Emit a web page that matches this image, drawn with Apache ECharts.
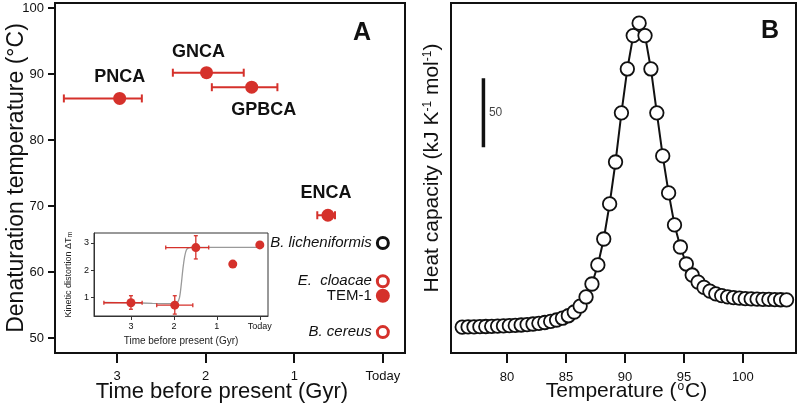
<!DOCTYPE html>
<html>
<head>
<meta charset="utf-8">
<script src="https://cdn.jsdelivr.net/npm/echarts@6/dist/echarts.min.js"></script>
<style>html,body{margin:0;padding:0;background:#fff}#c{width:800px;height:405px}</style>
</head>
<body>
<div id="c"></div>
<script>
// ---------- Panel A: ancestral enzymes ----------
const ancestorNames = ['PNCA', 'GNCA', 'GPBCA', 'ENCA'];
const ancestorTime = [2.97, 1.99, 1.48, 0.62];          // Gyr before present
const ancestorTimeLow = [2.72, 1.57, 1.19, 0.54];
const ancestorTimeHigh = [3.60, 2.37, 1.93, 0.74];
const ancestorTm = [86.3, 90.2, 88.0, 68.6];            // °C

const modernNames = ['B. licheniformis', 'E.  cloacae', 'TEM-1', 'B. cereus'];
const modernTime = [0, 0, 0, 0];
const modernTm = [64.4, 58.6, 56.4, 50.9];

const timeTicks = [3, 2, 1, 0];
const tmTicks = [50, 60, 70, 80, 90, 100];

// ---------- Inset: kinetic distortion ----------
const insetTime = [3.0, 1.98, 1.49, 0.63, 0.0];
const insetTimeLow = [2.74, 1.56, 1.19, 0.56, -0.03];
const insetTimeHigh = [3.63, 2.40, 2.19, 0.70, 0.03];
const insetDist = [0.79, 0.70, 2.83, 2.22, 2.93];
const insetDistLow = [0.55, 0.37, 2.41, 2.16, 2.84];
const insetDistHigh = [1.05, 1.05, 3.27, 2.28, 3.02];
const fitTime = [3.63, 3.0, 2.5, 2.0, 1.92, 1.87, 1.83, 1.79, 1.75, 1.71, 1.66, 1.6, 1.3, 0.8, 0.0];
const fitDist = [0.80, 0.79, 0.77, 0.76, 0.80, 0.98, 1.45, 2.05, 2.50, 2.74, 2.82, 2.84, 2.84, 2.84, 2.84];
const insetDistTicks = [1, 2, 3];

// ---------- Panel B: DSC thermogram ----------
const tempC = [76.2, 76.7, 77.2, 77.7, 78.2, 78.7, 79.2, 79.7, 80.2, 80.7,
  81.2, 81.7, 82.2, 82.7, 83.2, 83.7, 84.2, 84.7, 85.2, 85.7,
  86.2, 86.7, 87.2, 87.7, 88.2, 88.7, 89.2, 89.7, 90.2, 90.7,
  91.2, 91.7, 92.2, 92.7, 93.2, 93.7, 94.2, 94.7, 95.2, 95.7,
  96.2, 96.7, 97.2, 97.7, 98.2, 98.7, 99.2, 99.7, 100.2, 100.7,
  101.2, 101.7, 102.2, 102.7, 103.2, 103.7];
const heatCap = [18.8, 18.9, 19.0, 19.1, 19.2, 19.3, 19.5, 19.6, 19.8, 20.0,
  20.3, 20.6, 21.0, 21.5, 22.1, 22.9, 23.9, 25.2, 27.0, 29.7,
  34.0, 40.6, 50.0, 63.8, 82.6, 108.0, 138.4, 174.0, 205.8, 230.0,
  239.0, 230.0, 205.8, 174.0, 142.8, 116.0, 92.8, 76.8, 64.5, 56.5,
  51.4, 47.5, 44.8, 42.9, 41.6, 40.7, 40.1, 39.7, 39.4, 39.2,
  39.0, 38.9, 38.8, 38.7, 38.6, 38.5];
const tempTicks = [80, 85, 90, 95, 100];
const scaleBarTemp = [78.0, 78.0];
const scaleBarCap = [149, 199];
const scaleBarLabel = '50';

// ---------- styling ----------
const RED = '#d5312b';
const FONT = 'Liberation Sans, Arial, sans-serif';
const ancestorLabelLayout = [
  {position: 'top', distance: 6, offset: [0, 0]},
  {position: 'top', distance: 5, offset: [-8, 0]},
  {position: 'bottom', distance: 7, offset: [12, 0]},
  {position: 'top', distance: 7, offset: [-2, 0]}
];
const modernStyle = [
  {fill: '#fff', border: '#111', italic: true},
  {fill: '#fff', border: RED, italic: true},
  {fill: RED, border: RED, italic: false},
  {fill: '#fff', border: RED, italic: true}
];

function xErrRender(capHalf, lw) {
  return function (params, api) {
    const y = api.value(1);
    const lo = api.coord([api.value(2), y]);
    const hi = api.coord([api.value(3), y]);
    const st = {stroke: RED, lineWidth: lw};
    const kids = [
      {type: 'line', shape: {x1: lo[0], y1: lo[1], x2: hi[0], y2: hi[1]}, style: st},
      {type: 'line', shape: {x1: lo[0], y1: lo[1] - capHalf, x2: lo[0], y2: lo[1] + capHalf}, style: st},
      {type: 'line', shape: {x1: hi[0], y1: hi[1] - capHalf, x2: hi[0], y2: hi[1] + capHalf}, style: st}
    ];
    if (api.value(4) != null && !isNaN(api.value(4))) {
      const x = api.value(0);
      const b = api.coord([x, api.value(4)]);
      const t = api.coord([x, api.value(5)]);
      kids.push({type: 'line', shape: {x1: b[0], y1: b[1], x2: t[0], y2: t[1]}, style: st});
      kids.push({type: 'line', shape: {x1: b[0] - capHalf, y1: b[1], x2: b[0] + capHalf, y2: b[1]}, style: st});
      kids.push({type: 'line', shape: {x1: t[0] - capHalf, y1: t[1], x2: t[0] + capHalf, y2: t[1]}, style: st});
    }
    return {type: 'group', children: kids};
  };
}

const axisText = {fontFamily: FONT, color: '#111'};
const gridBase = {show: true, containLabel: false, outerBoundsMode: 'none', backgroundColor: 'transparent'};

const option = {
  animation: false,
  backgroundColor: '#fff',
  title: [
    {text: 'A', left: 348, top: 16, textStyle: {fontFamily: FONT, fontSize: 25, fontWeight: 'bold', color: '#111'}},
    {text: 'B', left: 756, top: 14, textStyle: {fontFamily: FONT, fontSize: 25, fontWeight: 'bold', color: '#111'}}
  ],
  grid: [
    Object.assign({left: 55, top: 3, width: 350, height: 350, borderColor: '#111', borderWidth: 2}, gridBase),
    Object.assign({}, gridBase, {left: 94, top: 233, width: 174, height: 83, borderColor: '#333', borderWidth: 1, backgroundColor: '#fff', z: 3}),
    Object.assign({left: 451, top: 3, width: 345, height: 350, borderColor: '#111', borderWidth: 2}, gridBase)
  ],
  xAxis: [
    {
      gridIndex: 0, type: 'value', inverse: true, min: -0.25, max: 3.7,
      name: 'Time before present (Gyr)', nameLocation: 'middle', nameGap: 28, nameMoveOverlap: false,
      nameTextStyle: {fontFamily: FONT, fontSize: 22, color: '#111', padding: [0, 16, 0, 0]},
      axisLine: {show: true, onZero: false, lineStyle: {color: '#111', width: 2}},
      axisTick: {show: true, length: 10, customValues: timeTicks, lineStyle: {color: '#111', width: 2}},
      axisLabel: Object.assign({customValues: timeTicks, margin: 17, fontSize: 13,
        formatter: v => v === 0 ? 'Today' : String(v)}, axisText),
      splitLine: {show: false}
    },
    {
      gridIndex: 1, type: 'value', inverse: true, min: -0.19, max: 3.86, z: 4,
      name: 'Time before present (Gyr)', nameLocation: 'middle', nameGap: 20, nameMoveOverlap: false,
      nameTextStyle: {fontFamily: FONT, fontSize: 10, color: '#222'},
      axisLine: {show: true, onZero: false, lineStyle: {color: '#333', width: 1}},
      axisTick: {show: true, length: 4, customValues: timeTicks, lineStyle: {color: '#333'}},
      axisLabel: Object.assign({customValues: timeTicks, margin: 6, fontSize: 9,
        formatter: v => v === 0 ? 'Today' : String(v)}, axisText),
      splitLine: {show: false}
    },
    {
      gridIndex: 2, type: 'value', min: 75.25, max: 104.5,
      name: '{a|Temperature (}{s|o}{a|C)}', nameLocation: 'middle', nameGap: 28, nameMoveOverlap: false,
      nameTextStyle: {padding: [0, 0, 0, 6], rich: {
        a: {fontFamily: FONT, fontSize: 21, color: '#111'},
        s: {fontFamily: FONT, fontSize: 12, color: '#111', verticalAlign: 'top', padding: [0, 1, 8, 1]}
      }},
      axisLine: {show: true, onZero: false, lineStyle: {color: '#111', width: 2}},
      axisTick: {show: true, length: 10, customValues: tempTicks, lineStyle: {color: '#111', width: 2}},
      axisLabel: Object.assign({customValues: tempTicks, margin: 18, fontSize: 13}, axisText),
      splitLine: {show: false}
    }
  ],
  yAxis: [
    {
      gridIndex: 0, type: 'value', min: 47.73, max: 100.76,
      name: 'Denaturation temperature (°C)', nameLocation: 'middle', nameGap: 27, nameMoveOverlap: false,
      nameTextStyle: {fontFamily: FONT, fontSize: 23, color: '#111'},
      axisLine: {show: true, onZero: false, lineStyle: {color: '#111', width: 2}},
      axisTick: {show: true, length: 7, customValues: tmTicks, lineStyle: {color: '#111', width: 2}},
      axisLabel: Object.assign({customValues: tmTicks, margin: 11, fontSize: 13}, axisText),
      splitLine: {show: false}
    },
    {
      gridIndex: 1, type: 'value', min: 0.3, max: 3.37, z: 4,
      name: '{a|Kinetic distortion ΔT}{s|m}', nameLocation: 'middle', nameGap: 20, nameMoveOverlap: false,
      nameTextStyle: {rich: {
        a: {fontFamily: FONT, fontSize: 9, color: '#222'},
        s: {fontFamily: FONT, fontSize: 7, color: '#222', verticalAlign: 'bottom', padding: [4, 0, 0, 0]}
      }},
      axisLine: {show: true, onZero: false, lineStyle: {color: '#333', width: 1}},
      axisTick: {show: true, length: 3, customValues: insetDistTicks, lineStyle: {color: '#333'}},
      axisLabel: Object.assign({customValues: insetDistTicks, margin: 5, fontSize: 9}, axisText),
      splitLine: {show: false}
    },
    {
      gridIndex: 2, type: 'value', min: 0, max: 253.6,
      name: '{a|Heat capacity (kJ K}{s|-1}{a| mol}{s|-1}{a|)}', nameLocation: 'middle', nameGap: 8, nameMoveOverlap: false,
      nameTextStyle: {padding: [0, 0, 0, 20], rich: {
        a: {fontFamily: FONT, fontSize: 21, color: '#111'},
        s: {fontFamily: FONT, fontSize: 12, color: '#111', verticalAlign: 'top', padding: [0, 0, 9, 0]}
      }},
      axisLine: {show: true, onZero: false, lineStyle: {color: '#111', width: 2}},
      axisTick: {show: false},
      axisLabel: {show: false},
      splitLine: {show: false}
    }
  ],
  series: [
    // Panel A error bars
    {
      type: 'custom', xAxisIndex: 0, yAxisIndex: 0, z: 2,
      renderItem: xErrRender(4, 2),
      encode: {x: [0, 2, 3], y: 1},
      data: ancestorTime.map((t, i) => [t, ancestorTm[i], ancestorTimeLow[i], ancestorTimeHigh[i]])
    },
    // Panel A ancestral points
    {
      type: 'scatter', xAxisIndex: 0, yAxisIndex: 0, z: 3,
      symbolSize: 13, itemStyle: {color: RED, opacity: 1},
      label: {show: true, formatter: p => p.name, fontFamily: FONT, fontSize: 18, fontWeight: 'bold', color: '#111'},
      data: ancestorNames.map((n, i) => ({
        name: n, value: [ancestorTime[i], ancestorTm[i]],
        label: ancestorLabelLayout[i]
      }))
    },
    // Panel A modern enzymes
    {
      type: 'scatter', xAxisIndex: 0, yAxisIndex: 0, z: 3,
      symbolSize: 11,
      label: {show: true, position: 'left', distance: 4, formatter: p => p.name, fontFamily: FONT, fontSize: 15, color: '#111'},
      data: modernNames.map((n, i) => ({
        name: n, value: [modernTime[i], modernTm[i]],
        itemStyle: {color: modernStyle[i].fill, borderColor: modernStyle[i].border, borderWidth: 3, opacity: 1},
        label: {fontStyle: modernStyle[i].italic ? 'italic' : 'normal'}
      }))
    },
    // Inset fit curve
    {
      type: 'line', xAxisIndex: 1, yAxisIndex: 1, z: 5,
      symbol: 'none', smooth: 0.3,
      lineStyle: {color: '#9a9a9a', width: 1.3},
      data: fitTime.map((t, i) => [t, fitDist[i]])
    },
    // Inset error bars
    {
      type: 'custom', xAxisIndex: 1, yAxisIndex: 1, z: 6,
      renderItem: xErrRender(2, 1.3),
      encode: {x: [0, 2, 3], y: [1, 4, 5]},
      data: insetTime.map((t, i) => [t, insetDist[i], insetTimeLow[i], insetTimeHigh[i], insetDistLow[i], insetDistHigh[i]])
    },
    // Inset points
    {
      type: 'scatter', xAxisIndex: 1, yAxisIndex: 1, z: 7,
      symbolSize: 9, itemStyle: {color: RED, opacity: 1},
      data: insetTime.map((t, i) => [t, insetDist[i]])
    },
    // Panel B scale bar
    {
      type: 'line', xAxisIndex: 2, yAxisIndex: 2, z: 3,
      symbol: 'none', lineStyle: {color: '#111', width: 3.5, cap: 'butt'},
      data: scaleBarTemp.map((t, i) => [t, scaleBarCap[i]])
    },
    {
      type: 'scatter', xAxisIndex: 2, yAxisIndex: 2, z: 3,
      symbolSize: 1, itemStyle: {color: 'rgba(0,0,0,0)'},
      label: {show: true, position: 'right', distance: 5, formatter: scaleBarLabel, fontFamily: FONT, fontSize: 12, color: '#111'},
      data: [[scaleBarTemp[0], (scaleBarCap[0] + scaleBarCap[1]) / 2]]
    },
    // Panel B thermogram
    {
      type: 'line', xAxisIndex: 2, yAxisIndex: 2, z: 4,
      symbol: 'circle', symbolSize: 13.5, showAllSymbol: true,
      lineStyle: {color: '#111', width: 2},
      itemStyle: {color: '#fff', borderColor: '#111', borderWidth: 1.8},
      data: tempC.map((t, i) => [t, heatCap[i]])
    }
  ]
};

const chart = echarts.init(document.getElementById('c'), null, {renderer: 'canvas', width: 800, height: 405});
chart.setOption(option);
</script>
</body>
</html>
